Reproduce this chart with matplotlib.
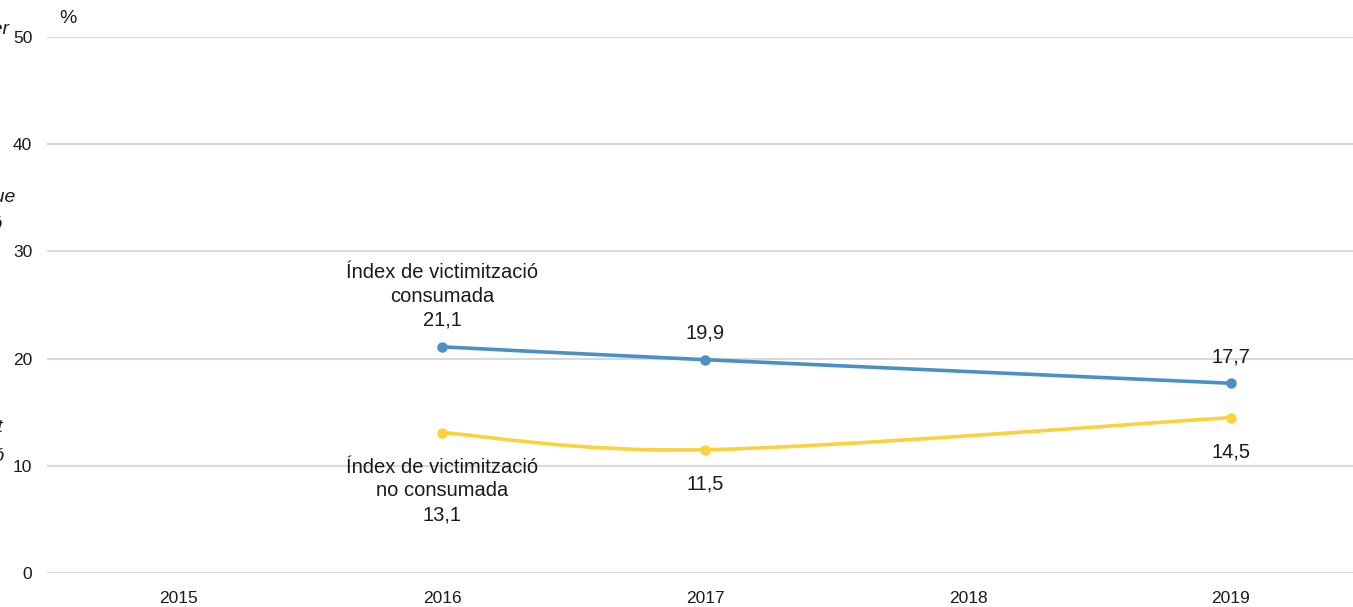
import numpy as np
import matplotlib.pyplot as plt
from matplotlib.path import Path
from matplotlib.patches import PathPatch

plt.rcParams['font.family'] = ['Liberation Sans', 'DejaVu Sans']

# data
years_axis = [2015, 2016, 2017, 2018, 2019]
years = [2016, 2017, 2019]
consumada = [21.1, 19.9, 17.7]
no_consumada = [13.1, 11.5, 14.5]
labels_consumada = ['Índex de victimització\nconsumada\n21,1', '19,9', '17,7']
labels_no_consumada = ['Índex de victimització\nno consumada\n13,1', '11,5', '14,5']
y_ticks = [0, 10, 20, 30, 40, 50]

BLUE = '#4a90c4'
YELLOW = '#fdd13c'


def smooth_path(xs, ys):
    """Catmull-Rom style smoothing as cubic bezier segments (like Excel smoothed lines)."""
    pts = np.column_stack([xs, ys]).astype(float)
    ext = np.vstack([pts[0], pts, pts[-1]])
    verts = [tuple(pts[0])]
    codes = [Path.MOVETO]
    for i in range(1, len(ext) - 2):
        p0, p1, p2, p3 = ext[i - 1], ext[i], ext[i + 1], ext[i + 2]
        c1 = p1 + (p2 - p0) / 6
        c2 = p2 - (p3 - p1) / 6
        verts += [tuple(c1), tuple(c2), tuple(p2)]
        codes += [Path.CURVE4] * 3
    return Path(verts, codes)


fig = plt.figure(figsize=(13.53, 6.07), dpi=100)
ax = fig.add_axes([0.0351, 0.056, 0.9649, 0.883])

for series, color in [(consumada, BLUE), (no_consumada, YELLOW)]:
    ax.add_patch(PathPatch(smooth_path(years, series), facecolor='none',
                           edgecolor=color, lw=2.6, zorder=3, capstyle='round'))
    ax.plot(years, series, 'o', color=color, ms=6.5, zorder=4)

for x, y, lab in zip(years, consumada, labels_consumada):
    ax.annotate(lab, (x, y), xytext=(0, 17), textcoords='offset pixels',
                ha='center', va='bottom', fontsize=14.5, linespacing=1.32,
                color='#1a1a1a')
for x, y, lab in zip(years, no_consumada, labels_no_consumada):
    ax.annotate(lab, (x, y), xytext=(0, -25), textcoords='offset pixels',
                ha='center', va='top', fontsize=14.5, linespacing=1.32,
                color='#1a1a1a')

ax.set_xlim(2014.5, 2019.464)
ax.set_ylim(0, 50)
ax.set_yticks(y_ticks)
ax.set_xticks(years_axis)
ax.set_xticklabels([str(y) for y in years_axis])
ax.grid(axis='y', color='#d9d9d9', lw=1.5)
ax.set_axisbelow(True)
ax.tick_params(length=0, labelsize=12.5, colors='#1a1a1a')
ax.tick_params(axis='y', pad=11)
ax.tick_params(axis='x', pad=13)
for s in ax.spines.values():
    s.set_visible(False)

fig.text(0.0435, 0.97, '%', fontsize=14, ha='left', va='center', color='#1a1a1a')

# clipped side labels from the original layout
side = [(0.0065, 0.952, 'Nombre de persones per'),
        (0.011, 0.675, 'que han patit algun fet delictiu que'),
        (0.002, 0.63, 'victimització'),
        (0.002, 0.295, 'fet'),
        (0.004, 0.248, 'victimització')]
for x, y, t in side:
    fig.text(x, y, t, fontsize=14, style='italic', ha='right', va='center',
             color='#1a1a1a')

fig.savefig('out.png', dpi=100)
